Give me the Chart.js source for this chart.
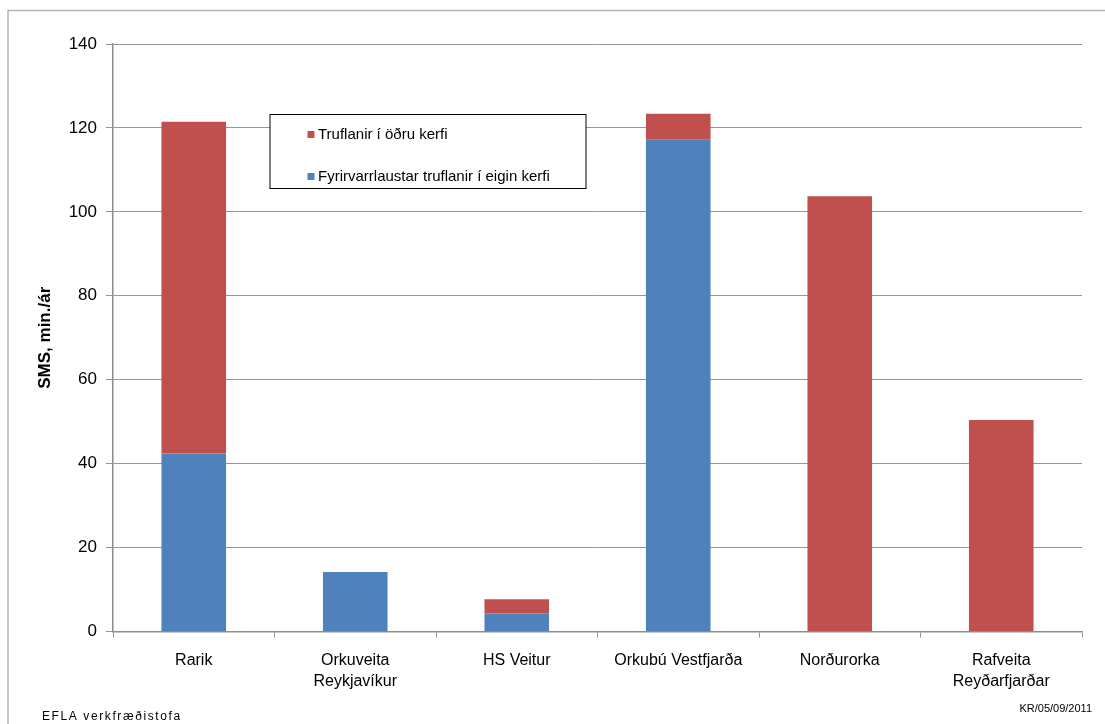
<!DOCTYPE html>
<html>
<head>
<meta charset="utf-8">
<script src="https://cdn.jsdelivr.net/npm/chart.js@4.4.0/dist/chart.umd.min.js"></script>
<style>
  html, body { margin: 0; padding: 0; background: #fff; }
  #wrap { width: 1105px; height: 724px; position: relative; }
</style>
</head>
<body>
<div id="wrap"><canvas id="smsChart"></canvas></div>
<script>
// Gögn lesin af myndinni
const categories = [
    'Rarik',
    ['Orkuveita', 'Reykjavíkur'],
    'HS Veitur',
    'Orkubú Vestfjarða',
    'Norðurorka',
    ['Rafveita', 'Reyðarfjarðar']
];
const eiginKerfi = [42.4, 14.2, 4.3, 117.2, 0, 0];     // blátt
const oduKerfi   = [79.1, 0, 3.4, 6.2, 103.7, 50.4];   // rautt
const yTicks = [0, 20, 40, 60, 80, 100, 120, 140];

const FONT = "'Liberation Sans', Arial, sans-serif";
const BLUE = '#4F81BD';
const RED = '#C0504D';
const GRID = '#969696';

// Rammi, skýringar og textar neðst
const extras = {
    id: 'extras',
    beforeDraw(chart) {
        const ctx = chart.ctx;
        ctx.save();
        ctx.fillStyle = '#fff';
        ctx.fillRect(0, 0, chart.width, chart.height);
        ctx.strokeStyle = '#b4b4b4';
        ctx.lineWidth = 1.5;
        ctx.beginPath();
        ctx.moveTo(8, chart.height);
        ctx.lineTo(8, 10.5);
        ctx.lineTo(chart.width, 10.5);
        ctx.stroke();
        ctx.restore();
    },
    afterDraw(chart) {
        const ctx = chart.ctx;
        ctx.save();
        // skýringarkassi
        ctx.fillStyle = '#fff';
        ctx.fillRect(270, 114.5, 316, 74);
        ctx.strokeStyle = '#000';
        ctx.lineWidth = 1;
        ctx.strokeRect(270, 114.5, 316, 74);

        const items = [chart.data.datasets[1], chart.data.datasets[0]];
        ctx.font = '15px ' + FONT;
        ctx.textBaseline = 'middle';
        items.forEach((ds, i) => {
            const y = 135 + i * 42;
            ctx.fillStyle = ds.backgroundColor;
            ctx.fillRect(307.5, y - 4, 7, 7);
            ctx.fillStyle = '#000';
            ctx.fillText(ds.label, 318, y);
        });

        // fótur
        ctx.font = '12px ' + FONT;
        ctx.textBaseline = 'alphabetic';
        ctx.letterSpacing = '1.6px';
        ctx.fillText('EFLA verkfræðistofa', 42, 720);
        ctx.letterSpacing = '0px';
        ctx.font = '11px ' + FONT;
        ctx.textAlign = 'right';
        ctx.fillText('KR/05/09/2011', 1092, 712);
        ctx.restore();
    }
};

const ctx = document.getElementById('smsChart').getContext('2d');
new Chart(ctx, {
    type: 'bar',
    data: {
        labels: categories,
        datasets: [
            {
                label: 'Fyrirvarrlaustar truflanir í eigin kerfi',
                data: eiginKerfi,
                backgroundColor: BLUE,
                borderWidth: 0,
                barPercentage: 0.4,
                categoryPercentage: 1
            },
            {
                label: 'Truflanir í öðru kerfi',
                data: oduKerfi,
                backgroundColor: RED,
                borderWidth: 0,
                barPercentage: 0.4,
                categoryPercentage: 1
            }
        ]
    },
    options: {
        responsive: true,
        maintainAspectRatio: false,
        animation: false,
        layout: { padding: { top: 44, right: 23, left: 0, bottom: 0 } },
        plugins: {
            legend: { display: false },
            tooltip: { enabled: false }
        },
        scales: {
            x: {
                stacked: true,
                afterFit: (s) => { s.height = 92.5; },
                grid: {
                    offset: true,
                    drawOnChartArea: false,
                    drawTicks: true,
                    tickLength: 6,
                    color: GRID
                },
                border: { color: '#8c8c8c', width: 1.5 },
                ticks: {
                    color: '#000',
                    padding: 12,
                    maxRotation: 0,
                    autoSkip: false,
                    font: { family: FONT, size: 16, lineHeight: 1.35 }
                }
            },
            y: {
                stacked: true,
                min: 0,
                max: 140,
                afterFit: (s) => { s.width = 113; },
                afterBuildTicks: (s) => { s.ticks = yTicks.map(v => ({ value: v })); },
                grid: {
                    color: GRID,
                    lineWidth: 1,
                    tickLength: 7
                },
                border: { color: '#8c8c8c', width: 1.5 },
                ticks: {
                    color: '#000',
                    padding: 9,
                    font: { family: FONT, size: 17 }
                },
                title: {
                    display: true,
                    text: 'SMS, min./ár',
                    color: '#000',
                    padding: { top: 35, bottom: 0 },
                    font: { family: FONT, size: 17, weight: 'bold' }
                }
            }
        }
    },
    plugins: [extras]
});
</script>
</body>
</html>
